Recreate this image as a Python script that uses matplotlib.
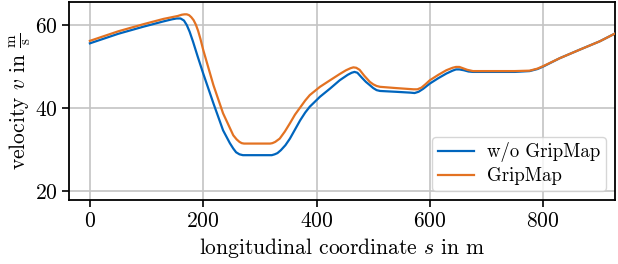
import matplotlib
matplotlib.use("Agg")
import matplotlib.pyplot as plt

# longitudinal coordinate s in m / velocity in m/s
s_wo = [0, 50, 94, 130, 145, 153, 160, 166, 171, 176, 182, 190, 200, 218, 235,
        247, 253, 258, 264, 270, 321, 326, 331, 337, 345, 353, 362, 371, 380,
        388, 406, 424, 441, 455, 462, 467, 472, 480, 487, 494, 500, 506, 512,
        540, 565, 573, 580, 588, 600, 615, 629, 640, 646, 652, 660, 668, 676,
        700, 750, 776, 790, 800, 829, 865, 900, 930]
v_wo = [55.6, 57.9, 59.6, 60.9, 61.4, 61.6, 61.6, 61.1, 60.0, 58.4, 56.0, 52.5,
        48.3, 41.1, 34.6, 31.5, 30.2, 29.3, 28.8, 28.6, 28.6, 28.8, 29.1, 29.8,
        31.0, 32.6, 34.8, 37.0, 38.9, 40.3, 42.7, 44.7, 46.7, 48.0, 48.5, 48.7,
        48.5, 47.3, 46.3, 45.5, 44.8, 44.3, 44.1, 43.9, 43.7, 43.6, 43.9, 44.6,
        45.9, 47.2, 48.3, 49.0, 49.3, 49.3, 49.1, 48.8, 48.7, 48.7, 48.7, 48.9,
        49.4, 50.0, 52.0, 54.1, 56.1, 58.2]

s_gm = [0, 50, 94, 130, 155, 162, 167, 171, 175, 179, 183, 187, 191, 195, 200,
        218, 235, 253, 259, 264, 268, 272, 318, 322, 327, 335, 344, 353, 362,
        371, 380, 388, 406, 424, 441, 452, 460, 465, 470, 476, 484, 494, 500,
        506, 512, 540, 571, 578, 585, 592, 600, 615, 629, 640, 646, 652, 658,
        666, 676, 700, 750, 776, 790, 800, 829, 865, 900, 930]
v_gm = [56.2, 58.5, 60.2, 61.5, 62.2, 62.5, 62.6, 62.6, 62.4, 61.9, 61.2, 60.1,
        58.6, 56.7, 54.0, 45.5, 38.7, 33.4, 32.4, 31.8, 31.5, 31.4, 31.4, 31.5,
        31.8, 32.6, 34.3, 36.3, 38.4, 40.1, 41.8, 43.1, 45.1, 46.7, 48.2, 49.1,
        49.6, 49.8, 49.7, 49.2, 47.8, 46.3, 45.7, 45.3, 45.1, 44.8, 44.5, 44.5,
        44.9, 45.7, 46.7, 48.0, 49.1, 49.7, 49.9, 49.9, 49.6, 49.2, 48.9, 48.9,
        48.9, 49.0, 49.5, 50.1, 52.0, 54.1, 56.1, 58.2]

labels = ["w/o GripMap", "GripMap"]
colors = ["#0065BD", "#E37222"]
x_ticks = [0, 200, 400, 600, 800]
y_ticks = [20, 40, 60]

plt.rcParams.update({
    "font.family": ["cmr10", "DejaVu Serif"],
    "mathtext.fontset": "cm",
    "axes.formatter.use_mathtext": True,
    "font.size": 15.5,
})

fig = plt.figure(figsize=(6.18, 2.64), dpi=100)
ax = fig.add_axes([0.112, 0.242, 0.883, 0.750])

ax.plot(s_wo, v_wo, color=colors[0], lw=1.6, label=labels[0], zorder=3)
ax.plot(s_gm, v_gm, color=colors[1], lw=1.6, label=labels[1], zorder=3)

ax.set_xlim(-36.5, 926.5)
ax.set_ylim(17.75, 65.55)
ax.set_xticks(x_ticks)
ax.set_yticks(y_ticks)
ax.grid(True, color="#c4c4c4", lw=1.2)
ax.set_axisbelow(True)
for sp in ax.spines.values():
    sp.set_linewidth(1.3)
ax.tick_params(direction="out", length=5, width=1.2)

ax.set_xlabel(r"longitudinal coordinate $s$ in m", labelpad=3)
ax.set_ylabel(r"velocity $v$ in $\frac{\mathrm{m}}{\mathrm{s}}$", labelpad=1)

leg = ax.legend(loc="lower right", fontsize=13.5, frameon=True, fancybox=True,
                framealpha=0.8, edgecolor="#cccccc", handlelength=1.9,
                handletextpad=0.7, labelspacing=0.25, borderpad=0.3,
                borderaxespad=0.5)

fig.savefig("out.png", dpi=100)
